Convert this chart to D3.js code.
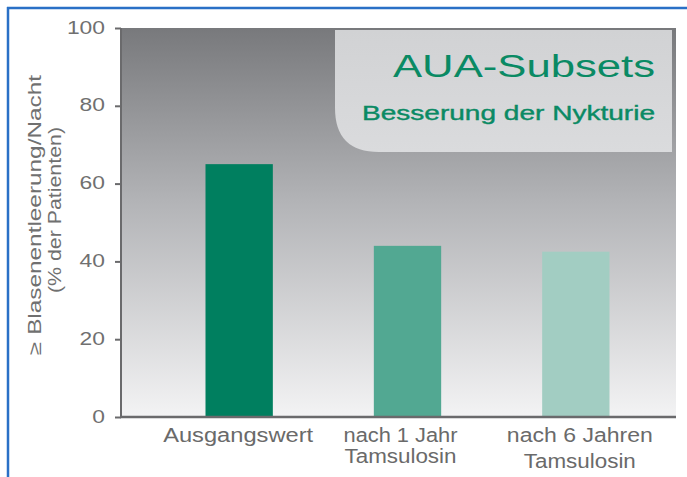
<!DOCTYPE html>
<html><head><meta charset="utf-8">
<script src="https://cdn.jsdelivr.net/npm/d3@7"></script>
<style>html,body{margin:0;padding:0;background:#fff;}svg{display:block;}</style>
</head><body>
<script>
const categories = [["Ausgangswert"], ["nach 1 Jahr", "Tamsulosin"], ["nach 6 Jahren", "Tamsulosin"]];
const values = [65, 44, 42.5];
const barColors = ["#007f5f", "#52a892", "#a2cdc2"];
const yTicks = [0, 20, 40, 60, 80, 100];
const yTitle = ["≥ Blasenentleerung/Nacht", "(% der Patienten)"];
const title = "AUA-Subsets";
const subtitle = "Besserung der Nykturie";

(function () {
const W = 687, H = 477;
const font = "'Liberation Sans', Arial, sans-serif";
const svg = d3.select("body").append("svg").attr("width", W).attr("height", H);

svg.append("rect").attr("x", 0).attr("y", 0).attr("width", W).attr("height", H).attr("fill", "#fff");
svg.append("line").attr("x1", 7).attr("x2", W).attr("y1", 8).attr("y2", 8).attr("stroke", "#2a70c6").attr("stroke-width", 2.5);
svg.append("line").attr("x1", 8).attr("x2", 8).attr("y1", 7).attr("y2", H).attr("stroke", "#2a70c6").attr("stroke-width", 2.5);

const pLeft = 121, pRight = 676, pTop = 28, pBottom = 417;
const y = d3.scaleLinear().domain([0, 100]).range([pBottom, pTop]);
const x = d3.scaleBand().domain(d3.range(categories.length)).range([155, 660]).paddingInner(0.6).paddingOuter(0.3);

const defs = svg.append("defs");
const g = defs.append("linearGradient").attr("id", "bg").attr("x1", 0).attr("x2", 0).attr("y1", 0).attr("y2", 1);
g.append("stop").attr("offset", "0%").attr("stop-color", "#78797c");
g.append("stop").attr("offset", "45%").attr("stop-color", "#b3b4b7");
g.append("stop").attr("offset", "100%").attr("stop-color", "#f3f3f4");
svg.append("rect").attr("x", pLeft).attr("y", pTop).attr("width", pRight - pLeft).attr("height", pBottom - pTop).attr("fill", "url(#bg)");

// title box
const bx0 = 335, bx1 = 672, by0 = 30, by1 = 152, r = 44;
const bg2 = defs.append("linearGradient").attr("id", "box").attr("x1", 0).attr("x2", 0).attr("y1", 0).attr("y2", 1);
bg2.append("stop").attr("offset", "0%").attr("stop-color", "#d1d2d4");
bg2.append("stop").attr("offset", "100%").attr("stop-color", "#dadbdd");
svg.append("path")
  .attr("d", `M${bx0},${by0} H${bx1} V${by1} H${bx0 + r} Q${bx0},${by1} ${bx0},${by1 - r} Z`)
  .attr("fill", "url(#box)");
svg.append("text").attr("x", 393).attr("y", 77).attr("textLength", 262).attr("lengthAdjust", "spacingAndGlyphs")
  .attr("font-family", font).attr("font-size", 31).attr("fill", "#0a8a64").text(title);
svg.append("text").attr("x", 362).attr("y", 120).attr("textLength", 293).attr("lengthAdjust", "spacingAndGlyphs")
  .attr("font-family", font).attr("font-size", 21).attr("fill", "#0a8a64").attr("stroke", "#0a8a64").attr("stroke-width", 0.4).text(subtitle);

// bars
svg.selectAll("rect.bar").data(values).enter().append("rect").attr("class", "bar")
  .attr("x", (d, i) => x(i)).attr("width", x.bandwidth())
  .attr("y", d => y(d)).attr("height", d => pBottom - y(d))
  .attr("fill", (d, i) => barColors[i]);

// y axis
const yAxis = d3.axisLeft(y).tickValues(yTicks).tickSize(6).tickPadding(10);
const ya = svg.append("g").attr("transform", `translate(${pLeft},0)`).call(yAxis);
ya.select(".domain").attr("stroke", "#6a6a6c").attr("stroke-width", 2).attr("d", `M0,${pTop}V${pBottom}`);
ya.selectAll(".tick line").attr("stroke", "#6a6a6c").attr("stroke-width", 2);
ya.selectAll(".tick text").attr("font-family", font).attr("font-size", 18).attr("fill", "#707070")
  .attr("x", -16 / 1.27).attr("dy", "0.28em").attr("transform", "scale(1.27,1)");

// x baseline
svg.append("line").attr("x1", pLeft - 1).attr("x2", pRight).attr("y1", pBottom).attr("y2", pBottom)
  .attr("stroke", "#6a6a6c").attr("stroke-width", 2.5);

// x labels (widths measured from reference)
const lineY = [[442], [442, 463], [442, 468]];
const lineW = [[150], [114, 112], [146, 112]];
const shift = [-1, -7, 4];
categories.forEach((lines, i) => {
  lines.forEach((t, j) => {
    const cx = x(i) + x.bandwidth() / 2 + shift[i];
    svg.append("text").attr("x", cx - lineW[i][j] / 2).attr("y", lineY[i][j])
      .attr("textLength", lineW[i][j]).attr("lengthAdjust", "spacingAndGlyphs")
      .attr("font-family", font).attr("font-size", 19.5)
      .attr("fill", "#6a6a6a").text(t);
  });
});

// y title
const tLen = [280, 166];
const tCy = [215, 210];
yTitle.forEach((t, j) => {
  svg.append("text").attr("transform", `translate(${41 + j * 20},${tCy[j] + tLen[j] / 2}) rotate(-90)`)
    .attr("textLength", tLen[j]).attr("lengthAdjust", "spacingAndGlyphs")
    .attr("font-family", font).attr("font-size", 18)
    .attr("fill", "#707070").text(t);
});
})();
</script>
</body></html>
